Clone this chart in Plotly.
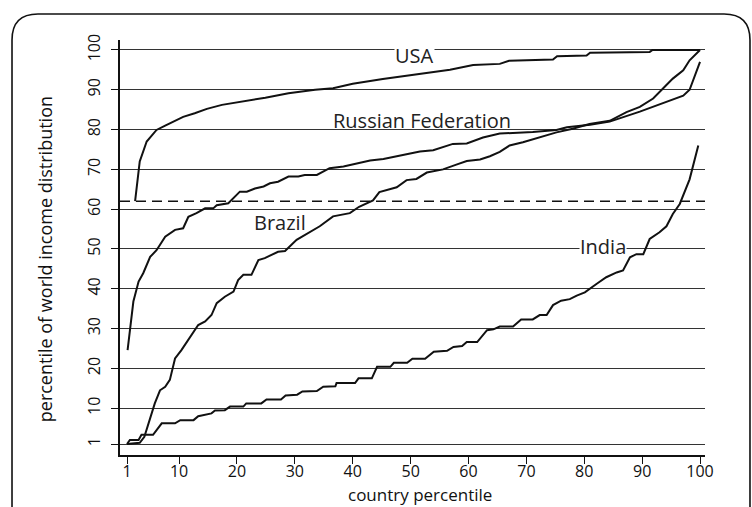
import plotly.graph_objects as go

# ---- data ----
usa_x = [2.4, 3.2, 4.4, 6.1, 7.6, 9.0, 10.7, 12.7, 14.8, 17.4, 20.8, 24.9, 28.9, 33.5, 36.6, 40.0,
         45.2, 51.0, 56.8, 60.8, 65.4, 67.0, 74.6, 75.3, 80.4, 81.0, 91.3, 91.8, 100.0]
usa_y = [62.0, 72.0, 77.0, 79.9, 81.0, 82.0, 83.2, 84.1, 85.2, 86.2, 87.0, 88.0, 89.1, 90.0, 90.4, 91.5,
         92.7, 93.8, 95.0, 96.2, 96.5, 97.3, 97.6, 98.4, 98.6, 99.3, 99.5, 100.0, 100.0]

russia_x = [1.1, 2.1, 3.0, 3.8, 5.0, 6.1, 7.6, 9.3, 10.7, 11.6, 13.0, 14.5, 15.9, 16.5, 18.5, 20.5,
            21.7, 23.1, 24.6, 25.7, 27.1, 28.9, 30.6, 31.7, 33.8, 36.0, 38.4, 43.0, 45.3, 48.2,
            51.6, 53.9, 57.3, 59.7, 62.5, 65.4, 68.3, 71.1, 75.2, 77.0, 81.0, 84.4, 89.6, 92.5,
            95.4, 97.1, 98.2, 99.1, 100.0]
russia_y = [24.6, 36.8, 41.8, 43.9, 48.0, 49.7, 53.1, 54.8, 55.2, 58.1, 59.0, 60.2, 60.2, 61.0, 61.5, 64.4,
            64.4, 65.2, 65.7, 66.5, 66.9, 68.2, 68.2, 68.6, 68.6, 70.3, 70.7, 72.2, 72.6, 73.5,
            74.5, 74.8, 76.4, 76.5, 78.0, 79.0, 79.2, 79.4, 79.9, 80.6, 81.2, 82.0, 84.5, 86.0,
            87.5, 88.5, 90.0, 93.5, 97.0]

brazil_x = [1.0, 3.2, 4.0, 4.9, 5.8, 6.7, 7.6, 8.4, 9.3, 10.4, 11.9, 13.3, 14.5, 15.6, 16.5, 17.9,
            19.4, 20.2, 21.1, 22.5, 23.7, 24.8, 27.1, 28.3, 30.3, 32.6, 34.3, 36.6, 39.5, 41.1,
            43.5, 44.6, 47.6, 49.3, 51.0, 52.8, 55.6, 57.9, 59.7, 62.0, 63.7, 65.4, 67.1, 69.4,
            72.3, 75.2, 78.0, 80.9, 84.4, 87.3, 89.6, 91.9, 93.6, 95.3, 97.1, 98.2, 100.0]
brazil_y = [1.0, 1.3, 2.8, 7.0, 11.2, 14.5, 15.4, 17.1, 22.5, 24.6, 28.0, 30.9, 31.8, 33.4, 36.4, 38.0,
            39.3, 42.2, 43.5, 43.5, 47.2, 47.7, 49.3, 49.5, 52.3, 54.2, 55.7, 58.2, 59.0, 60.6,
            62.2, 64.3, 65.5, 67.3, 67.6, 69.2, 70.0, 71.2, 72.1, 72.5, 73.3, 74.4, 76.0, 76.8,
            78.0, 79.3, 80.2, 81.4, 82.2, 84.4, 85.7, 87.8, 90.3, 92.8, 94.9, 97.4, 100.0]

india_x = [1.0, 1.5, 3.0, 3.5, 5.5, 7.0, 9.3, 10.2, 12.5, 13.3, 15.6, 16.2, 17.9, 18.8, 21.1, 21.6,
           24.2, 25.1, 27.6, 28.4, 30.4, 31.3, 33.8, 34.9, 37.0, 37.2, 40.4, 41.0, 43.3, 44.2,
           46.5, 47.1, 49.4, 50.3, 52.5, 54.0, 56.3, 57.4, 58.9, 59.7, 61.5, 63.2, 64.3, 65.4,
           67.7, 69.1, 71.1, 72.3, 73.5, 74.6, 76.0, 77.5, 78.7, 80.1, 82.1, 83.8, 85.6, 86.7,
           87.9, 89.0, 90.2, 91.3, 93.0, 94.2, 95.3, 96.5, 98.2, 99.7]
india_y = [1.0, 2.0, 2.0, 3.3, 3.3, 6.2, 6.2, 7.0, 7.0, 8.0, 8.7, 9.4, 9.5, 10.4, 10.4, 11.2,
           11.2, 12.2, 12.2, 13.2, 13.4, 14.2, 14.3, 15.4, 15.5, 16.3, 16.3, 17.5, 17.5, 20.4,
           20.4, 21.4, 21.4, 22.4, 22.4, 24.2, 24.4, 25.4, 25.6, 26.6, 26.6, 29.6, 29.8, 30.5,
           30.5, 32.3, 32.3, 33.4, 33.4, 35.9, 37.0, 37.4, 38.3, 39.1, 41.2, 42.9, 44.1, 44.6,
           47.9, 48.7, 48.7, 52.5, 54.2, 55.7, 58.8, 61.3, 67.5, 76.0]

threshold = 62
tick_vals = [1, 10, 20, 30, 40, 50, 60, 70, 80, 90, 100]
tick_text = [str(v) for v in tick_vals]

labels = ["USA", "Russian Federation", "Brazil", "India"]
label_x = [50.7, 52.0, 27.4, 83.2]
label_y = [98.6, 82.4, 56.6, 50.6]
label_bg = ["white", "rgba(0,0,0,0)", "rgba(0,0,0,0)", "white"]

FONT = "Open Sans, Noto Sans, sans-serif"

fig = go.Figure()
for xs, ys in [(usa_x, usa_y), (russia_x, russia_y), (brazil_x, brazil_y), (india_x, india_y)]:
    fig.add_trace(go.Scatter(x=xs, y=ys, mode="lines",
                             line=dict(color="#111111", width=2),
                             showlegend=False, hoverinfo="skip"))

# dashed reference line
fig.add_shape(type="line", xref="paper", yref="y", x0=0, x1=1, y0=threshold, y1=threshold,
              line=dict(color="#111111", width=1.5, dash="10px,6px"))

for t, x, y, bg in zip(labels, label_x, label_y, label_bg):
    fig.add_annotation(x=x, y=y, xref="x", yref="y", text=t, showarrow=False,
                       font=dict(family=FONT, size=20, color="#222222"),
                       bgcolor=bg, borderpad=0, xanchor="center", yanchor="middle")

# axis titles
fig.add_annotation(x=0.513, y=-0.094, xref="paper", yref="paper", text="country percentile",
                   showarrow=False, font=dict(family=FONT, size=17, color="#111111"),
                   xanchor="center", yanchor="middle")
fig.add_annotation(x=-0.128, y=0.472, xref="paper", yref="paper",
                   text="percentile of world income distribution", textangle=-90,
                   showarrow=False, font=dict(family=FONT, size=18, color="#111111"),
                   xanchor="center", yanchor="middle")

# rounded frame of the figure panel
fig.add_shape(type="path", xref="paper", yref="paper",
              path="M -0.1846,-0.16 L -0.1846,1.0 Q -0.1846,1.0627 -0.1402,1.0627 "
                   "L 1.0325,1.0627 Q 1.0769,1.0627 1.0769,1.0 L 1.0769,-0.16",
              line=dict(color="#111111", width=1.6))

fig.update_layout(
    width=752, height=507,
    margin=dict(l=120, r=47, t=40, b=52),
    paper_bgcolor="white", plot_bgcolor="white",
    font=dict(family=FONT, color="#111111"),
)
fig.update_xaxes(range=[-0.21, 100.86], tickvals=tick_vals, ticktext=tick_text,
                 showgrid=False, zeroline=False, showline=True, linecolor="#111111", linewidth=1.6,
                 ticks="outside", ticklen=7, tickwidth=1.4, tickcolor="#111111",
                 ticklabelstandoff=-6,
                 tickfont=dict(family=FONT, size=16, color="#111111"))
fig.update_yaxes(range=[-1.76, 102.5], tickvals=tick_vals, ticktext=tick_text, tickangle=-90,
                 showgrid=True, gridcolor="#333333", gridwidth=1, zeroline=False,
                 showline=True, linecolor="#111111", linewidth=1.6,
                 ticks="outside", ticklen=7, tickwidth=1.4, tickcolor="#111111",
                 ticklabelstandoff=5,
                 tickfont=dict(family=FONT, size=16, color="#111111"))

fig.write_html("out.html", config={"displayModeBar": False},
               post_script="document.body.style.margin='0';document.body.style.overflow='hidden';")
